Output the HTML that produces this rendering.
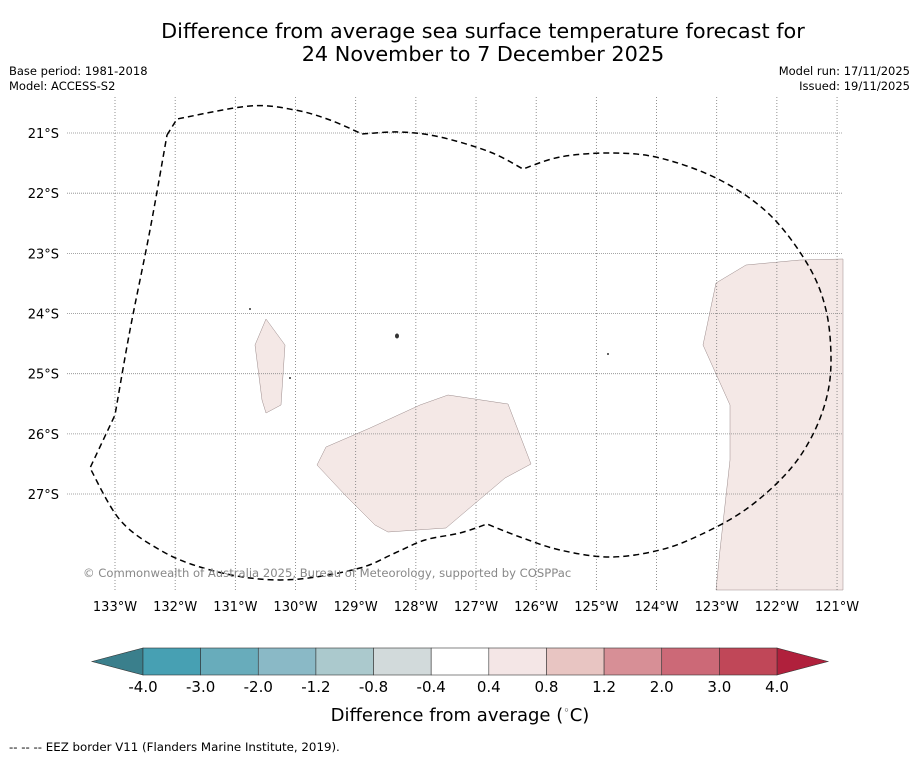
<!DOCTYPE html>
<html><head><meta charset="utf-8"><style>
body{margin:0;background:#fff;font-family:"Liberation Sans","DejaVu Sans",sans-serif}
svg text{font-family:"DejaVu Sans","Liberation Sans",sans-serif}
</style></head><body>
<svg id="c" width="919" height="758" xmlns="http://www.w3.org/2000/svg">
<rect width="919" height="758" fill="#fff"/>
<text x="483" y="38" font-size="20.8" text-anchor="middle">Difference from average sea surface temperature forecast for</text>
<text x="483" y="61" font-size="20.8" text-anchor="middle">24 November to 7 December 2025</text>
<text x="9" y="75" font-size="11.5">Base period: 1981-2018</text>
<text x="9" y="90" font-size="11.5">Model: ACCESS-S2</text>
<text x="910" y="75" font-size="11.5" text-anchor="end">Model run: 17/11/2025</text>
<text x="910" y="90" font-size="11.5" text-anchor="end">Issued: 19/11/2025</text>
<g id="map">
<g fill="#f4e8e6" stroke="#9a8a8a" stroke-width="0.5">
<polygon points="255,345 266,319 285,345 281,405 266,413 262,400"/>
<polygon points="317,465 326,447 370,428 420,405 448,395 508,404 531,464 505,478 446,528 388,532 375,525 345,495"/>
<polygon points="716,283 746,265 800,260 843,259 843,590 716,590 720,550 730,460 730,405 703,345"/>
</g>
<g id="grid"></g>
<g fill="#333">
<circle cx="250" cy="309" r="1"/><ellipse cx="397" cy="336" rx="2" ry="2.5"/><circle cx="290" cy="378" r="1"/><circle cx="608" cy="354" r="1"/>
</g>
<path id="eez" fill="none" stroke="#000" stroke-width="1.5" stroke-dasharray="6,4"/>
<text x="83" y="577" font-size="11.6" fill="#888">© Commonwealth of Australia 2025, Bureau of Meteorology, supported by COSPPac</text>
</g>
<g id="cbar"></g>
<text x="460" y="721" font-size="18" text-anchor="middle">Difference from average (<tspan font-size="11" dy="-7">◦</tspan><tspan dy="7">C)</tspan></text>
<text x="9" y="751" font-size="11.8">--  --  -- EEZ border V11 (Flanders Marine Institute, 2019).</text>
</svg>
<script>
const lonTicks=[133,132,131,130,129,128,127,126,125,124,123,122,121];
const latTicks=[21,22,23,24,25,26,27];
const cbLabels=["-4.0","-3.0","-2.0","-1.2","-0.8","-0.4","0.4","0.8","1.2","2.0","3.0","4.0"];
const cbColors=["#47a0b3","#68acbb","#8ab9c6","#abc9cd","#d2dadb","#ffffff","#f4e6e6","#e8c5c2","#d78f96","#cc6977","#c04758"];
const NS="http://www.w3.org/2000/svg";
function xL(w){return 115+(133-w)*60.17;}
function yL(s){return 133+(s-21)*60.17;}
function mk(t,a,p){const e=document.createElementNS(NS,t);for(const k in a)e.setAttribute(k,a[k]);p.appendChild(e);return e;}
// EEZ border: smooth chunks between sharp corners
const eezChunks=[
[[167,135],[177,119],[250,106],[295,110],[330,120],[362,134]],
[[362,134],[400,132],[440,137],[490,152],[523,169]],
[[523,169],[560,157],[610,153],[660,158],[720,180],[770,215],[808,265],[826,310],[831,360],[826,400],[810,440],[785,475],[745,510],[700,535],[660,550],[610,557],[560,550],[520,537],[487,524]],
[[487,524],[460,533],[425,540],[395,553],[360,568],[300,579],[250,578],[200,567],[160,550],[120,520],[90,468]],
[[90,468],[115,415]],
[[115,415],[130,330],[150,230],[167,135]]];
let d='';
eezChunks.forEach((p,ci)=>{
 if(ci===0)d+='M'+p[0][0]+','+p[0][1];
 if(ci===0){d+=' L177,119';p=p.slice(1);}
 for(let i=0;i<p.length-1;i++){
  const a=p[Math.max(i-1,0)],b=p[i],c=p[i+1],e=p[Math.min(i+2,p.length-1)];
  const c1=[b[0]+(c[0]-a[0])/6,b[1]+(c[1]-a[1])/6],c2=[c[0]-(e[0]-b[0])/6,c[1]-(e[1]-b[1])/6];
  d+=` C${c1[0]},${c1[1]} ${c2[0]},${c2[1]} ${c[0]},${c[1]}`;
 }
});
document.getElementById('eez').setAttribute('d',d);
const g=document.getElementById('grid');
lonTicks.forEach(w=>{const x=xL(w);
 const l=mk('line',{x1:x,x2:x,y1:97,y2:590,stroke:'#777','stroke-width':0.8,'stroke-dasharray':'1,2'},g);
 
 
 const t=mk('text',{x:x,y:611,'font-size':13,'text-anchor':'middle'},g);t.textContent=w+'°W';
 
 });
latTicks.forEach(s=>{const y=yL(s);
 const l=mk('line',{x1:67,x2:843,y1:y,y2:y,stroke:'#888','stroke-width':0.8,'stroke-dasharray':'1,1'},g);
 
 
 const t=mk('text',{x:59,y:y+5,'font-size':13,'text-anchor':'end'},g);t.textContent=s+'°S';
 
 });
const cb=document.getElementById('cbar');
const x0=143,x1=777,y0=648,y1=675,n=cbColors.length,sw=(x1-x0)/n;
const lt=mk('polygon',{points:`92,661.5 ${x0},${y0} ${x0},${y1}`,fill:'#3a7f8c',stroke:'#333','stroke-width':0.6},cb);


const rt=mk('polygon',{points:`828,661.5 ${x1},${y0} ${x1},${y1}`,fill:'#b0203c',stroke:'#333','stroke-width':0.6},cb);


cbColors.forEach((c,i)=>{const r=mk('rect',{x:x0+i*sw,y:y0,width:sw,height:y1-y0,fill:c,stroke:'#333','stroke-width':0.6},cb);
 
 });
cbLabels.forEach((s,i)=>{const t=mk('text',{x:x0+i*sw,y:692,'font-size':15,'text-anchor':'middle'},cb);t.textContent=s;
 
 });
</script>
</body></html>
